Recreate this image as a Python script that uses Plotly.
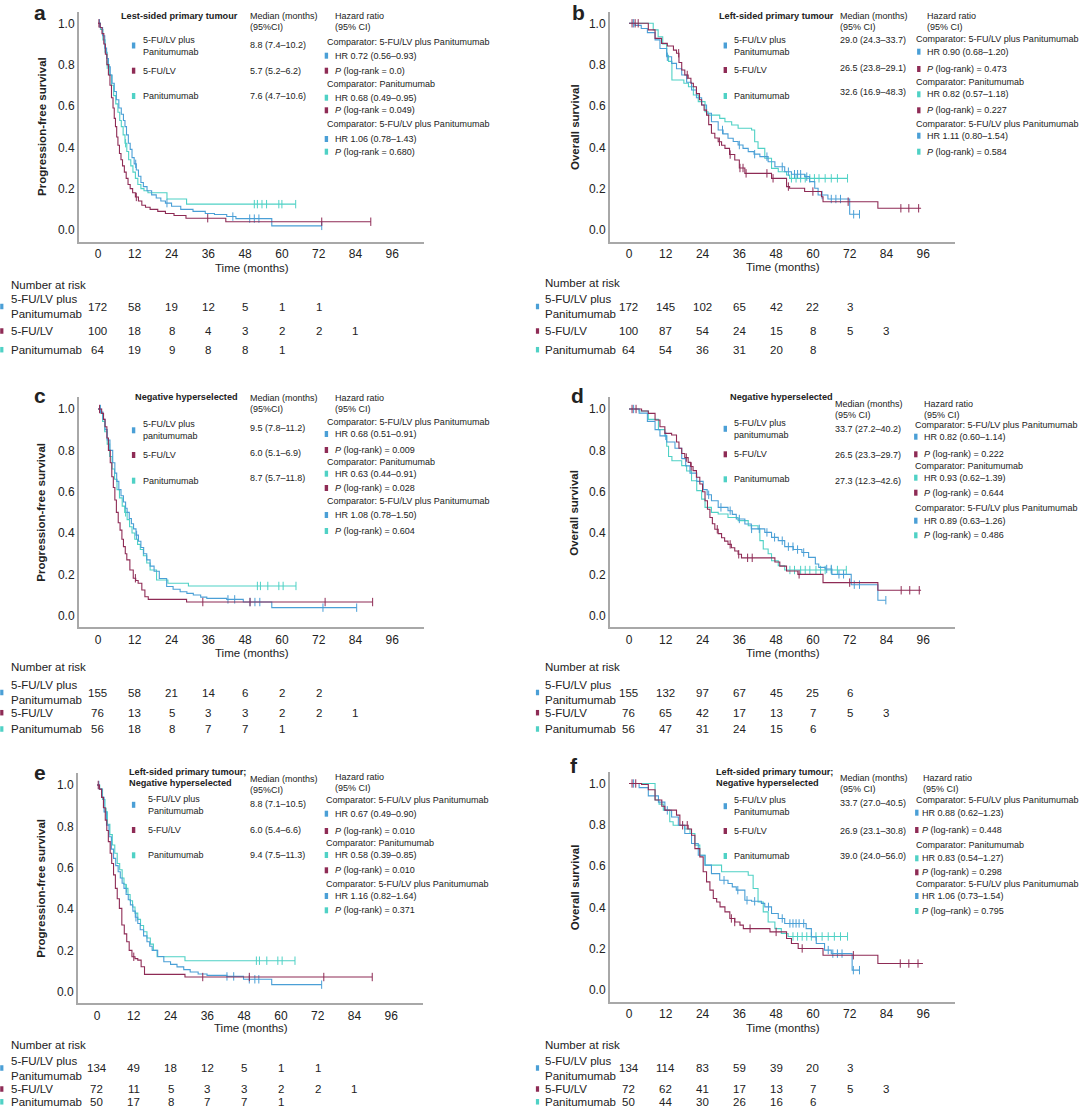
import numpy as np
import plotly.graph_objects as go

W, H = 1080, 1109

BLUE = "#4a9fd6"
MAROON = "#8e2b55"
CYAN = "#4fd1c5"
TXT = "#222222"
FONT = "Liberation Sans, Arial, sans-serif"

# ---------------- curve data (months, survival) ----------------
# panel a : PFS, left-sided
A_COMBO_T = [0, 0.8, 1.5, 2.2, 2.8, 3.4, 4.0, 4.6, 5.3, 6.0, 6.8, 7.6, 8.3, 8.8, 9.3, 9.9, 10.5, 11.1, 11.8,
             12.5, 13.2, 14.0, 14.8, 16.0, 17.5, 19.0, 20.5, 22.0, 24.0, 27.0, 31.0, 35.0, 38.0, 42.0, 45.0, 56.7, 73.0]
A_COMBO_S = [1.0, 0.98, 0.94, 0.88, 0.83, 0.79, 0.75, 0.71, 0.67, 0.63, 0.59, 0.56, 0.53, 0.50, 0.46, 0.42, 0.39,
             0.35, 0.32, 0.29, 0.26, 0.23, 0.21, 0.19, 0.17, 0.155, 0.14, 0.13, 0.115, 0.10, 0.09, 0.08, 0.075, 0.065,
             0.055, 0.02, 0.02]
A_COMBO_C = [0.5, 12.3, 22.5, 44.0, 49.5, 51.0, 52.5, 73.0]
A_FU_T = [0, 0.7, 1.3, 1.9, 2.4, 2.9, 3.4, 3.9, 4.4, 4.9, 5.3, 5.7, 6.1, 6.5, 7.0, 7.5, 8.0, 8.6, 9.2, 9.8, 10.5,
          11.3, 12.2, 13.2, 14.3, 15.5, 17.0, 19.5, 22.0, 24.8, 28.7, 41.7, 89.0]
A_FU_S = [1.0, 0.98, 0.95, 0.90, 0.85, 0.80, 0.75, 0.70, 0.64, 0.59, 0.54, 0.50, 0.45, 0.41, 0.37, 0.34, 0.31, 0.28,
          0.25, 0.22, 0.20, 0.18, 0.16, 0.14, 0.12, 0.11, 0.10, 0.09, 0.08, 0.07, 0.057, 0.04, 0.04]
A_FU_C = [0.3, 12.5, 35.8, 73.0, 89.0]
A_PAN_T = [0, 0.8, 1.6, 2.3, 3.0, 3.7, 4.4, 5.1, 5.8, 6.5, 7.1, 7.6, 8.2, 8.8, 9.4, 10.0, 10.7, 11.4, 12.2, 13.0,
           14.0, 15.0, 16.3, 22.5, 28.9, 64.5]
A_PAN_S = [1.0, 0.97, 0.92, 0.86, 0.80, 0.75, 0.70, 0.65, 0.61, 0.57, 0.53, 0.50, 0.46, 0.42, 0.38, 0.34, 0.31,
           0.28, 0.25, 0.22, 0.20, 0.19, 0.18, 0.15, 0.125, 0.125]
A_PAN_C = [3.0, 9.0, 51.0, 52.0, 53.5, 55.0, 59.0, 60.0, 64.5]

# panel b : OS, left-sided
B_COMBO_T = [0, 2, 4, 6, 8.5, 10.1, 12.3, 13.9, 15.5, 17.2, 18.8, 20.4, 22.0, 23.7, 25.3, 26.9, 29.1, 30.7, 32.3,
             34.0, 35.6, 37.2, 38.9, 40.8, 42.7, 45.4, 47.6, 50.8, 53.0, 57.3, 58.9, 60.6, 61.7, 64.9, 72.0, 75.2]
B_COMBO_S = [1.0, 0.99, 0.975, 0.955, 0.92, 0.878, 0.838, 0.806, 0.78, 0.75, 0.715, 0.677, 0.64, 0.605, 0.565,
             0.524, 0.484, 0.465, 0.444, 0.428, 0.411, 0.395, 0.379, 0.367, 0.355, 0.33, 0.306, 0.282, 0.27, 0.258,
             0.234, 0.202, 0.169, 0.15, 0.076, 0.076]
B_COMBO_C = [1.5, 12.5, 30.5, 36.0, 41.0, 45.0, 50.0, 52.0, 54.0, 55.0, 56.0, 58.0, 63.0, 66.0, 67.5, 69.0, 73.3, 75.2]
B_FU_T = [0, 6.3, 8.5, 10.6, 12.5, 14.5, 15.5, 16.3, 17.2, 18.2, 19.3, 20.2, 21.0, 22.0, 23.0, 23.7, 24.5, 25.3,
          26.0, 26.9, 28.0, 29.1, 30.2, 31.3, 32.8, 34.5, 36.0, 37.8, 46.5, 51.4, 52.4, 57.3, 62.8, 63.3, 81.2, 95.3]
B_FU_S = [1.0, 0.968, 0.927, 0.903, 0.89, 0.87, 0.855, 0.81, 0.774, 0.75, 0.734, 0.71, 0.693, 0.66, 0.63, 0.605,
          0.58, 0.556, 0.51, 0.468, 0.445, 0.427, 0.41, 0.395, 0.365, 0.339, 0.30, 0.274, 0.25, 0.21, 0.202, 0.186,
          0.161, 0.137, 0.105, 0.105]
B_FU_C = [1.0, 2.0, 3.0, 16.2, 19.0, 29.5, 33.0, 36.2, 37.2, 38.2, 45.0, 47.0, 52.0, 60.0, 71.5, 88.7, 91.3, 94.5]
B_PAN_T = [0, 7.9, 9.5, 11.0, 12.3, 12.9, 14.0, 17.9, 19.4, 21.0, 22.6, 24.8, 25.8, 29.6, 31.3, 33.5, 35.6, 40.0,
           41.0, 42.1, 44.3, 46.5, 48.7, 51.4, 52.4, 71.3]
B_PAN_S = [1.0, 0.968, 0.935, 0.90, 0.845, 0.816, 0.726, 0.71, 0.693, 0.653, 0.621, 0.572, 0.556, 0.54, 0.524,
           0.508, 0.492, 0.484, 0.427, 0.395, 0.347, 0.298, 0.282, 0.266, 0.25, 0.25]
B_PAN_C = [53.0, 54.5, 56.0, 57.5, 59.0, 60.5, 62.0, 64.0, 66.0, 68.0, 71.3]

# panel c : PFS, negative hyperselected
C_COMBO_T = [0, 1.0, 1.6, 2.3, 3.0, 3.9, 4.8, 5.5, 6.1, 6.8, 7.5, 8.3, 9.0, 9.5, 10.2, 10.9, 11.6, 12.4, 13.2,
             14.0, 14.9, 15.9, 17.0, 18.3, 20.0, 22.4, 24.5, 26.8, 29.0, 31.1, 33.5, 35.5, 42.0, 47.4, 56.7, 84.4]
C_COMBO_S = [1.0, 0.985, 0.95, 0.90, 0.85, 0.80, 0.74, 0.69, 0.65, 0.61, 0.58, 0.55, 0.52, 0.50, 0.47, 0.445,
             0.42, 0.39, 0.36, 0.33, 0.30, 0.27, 0.24, 0.215, 0.18, 0.141, 0.128, 0.116, 0.108, 0.10, 0.09, 0.084,
             0.079, 0.066, 0.039, 0.039]
C_COMBO_C = [0.8, 12.6, 42.4, 44.6, 49.6, 51.2, 52.8, 73.4, 84.4]
C_FU_T = [0, 1.2, 1.8, 2.3, 2.9, 3.4, 4.0, 4.5, 5.0, 5.5, 6.0, 6.6, 7.2, 7.8, 8.3, 8.9, 9.4, 10.4, 11.5, 12.3,
          13.1, 14.3, 15.3, 16.4, 28.9, 89.6]
C_FU_S = [1.0, 0.979, 0.95, 0.914, 0.86, 0.80, 0.74, 0.672, 0.62, 0.56, 0.50, 0.45, 0.414, 0.37, 0.334, 0.30,
          0.27, 0.221, 0.181, 0.17, 0.157, 0.124, 0.092, 0.079, 0.066, 0.066]
C_FU_C = [0.5, 12.2, 34.2, 49.6, 74.1, 89.6]
C_PAN_T = [0, 0.8, 1.5, 2.2, 3.0, 3.8, 4.6, 5.4, 6.2, 7.0, 7.9, 8.7, 9.5, 10.3, 11.1, 12.0, 12.9, 13.8, 14.8,
           15.9, 17.0, 19.1, 22.8, 29.5, 64.6]
C_PAN_S = [1.0, 0.98, 0.94, 0.89, 0.83, 0.77, 0.71, 0.66, 0.61, 0.57, 0.53, 0.50, 0.465, 0.43, 0.40, 0.37, 0.345,
           0.32, 0.29, 0.255, 0.221, 0.173, 0.157, 0.144, 0.144]
C_PAN_C = [3.5, 9.0, 52.0, 53.0, 55.4, 59.0, 60.4, 64.6]

# panel d : OS, negative hyperselected
D_COMBO_T = [0, 3.3, 6.0, 8.5, 10.1, 12.3, 15.0, 17.2, 18.5, 19.9, 22.1, 24.2, 25.5, 26.9, 29.1, 32.3, 33.7, 35.0,
             37.8, 39.9, 44.3, 46.5, 48.7, 50.8, 53.6, 56.4, 58.6, 60.8, 61.9, 64.0, 66.2, 72.5, 81.2, 83.8]
D_COMBO_S = [1.0, 0.98, 0.94, 0.90, 0.87, 0.84, 0.81, 0.76, 0.725, 0.69, 0.65, 0.61, 0.585, 0.556, 0.524, 0.508,
             0.49, 0.468, 0.444, 0.42, 0.403, 0.379, 0.363, 0.334, 0.32, 0.306, 0.282, 0.25, 0.234, 0.226, 0.20,
             0.15, 0.075, 0.075]
D_COMBO_C = [1.5, 12.0, 26.0, 30.0, 33.0, 36.0, 40.0, 42.5, 45.0, 47.5, 50.0, 52.0, 53.5, 55.0, 57.0, 64.5, 66.0,
             68.5, 70.0, 73.5, 75.2, 83.8]
D_FU_T = [0, 4.1, 6.3, 8.5, 10.1, 11.7, 13.9, 15.5, 16.3, 17.2, 18.2, 19.3, 20.1, 20.9, 22.0, 23.1, 24.0, 24.8,
          25.6, 26.4, 27.2, 28.0, 29.1, 30.2, 31.2, 32.3, 33.4, 34.5, 35.6, 36.7, 47.6, 49.2, 51.4, 55.1, 63.3, 81.2,
          95.3]
D_FU_S = [1.0, 0.99, 0.979, 0.947, 0.914, 0.882, 0.874, 0.84, 0.81, 0.785, 0.765, 0.742, 0.722, 0.702, 0.67,
          0.637, 0.60, 0.556, 0.515, 0.475, 0.445, 0.418, 0.397, 0.377, 0.361, 0.345, 0.329, 0.313, 0.297, 0.28,
          0.26, 0.24, 0.216, 0.20, 0.16, 0.123, 0.123]
D_FU_C = [1.0, 2.3, 18.7, 20.3, 28.8, 33.0, 35.8, 38.7, 40.2, 55.5, 72.0, 88.8, 91.6, 94.7]
D_PAN_T = [0, 3.3, 6.3, 9.6, 11.7, 12.3, 12.9, 14.0, 17.2, 18.8, 20.4, 22.1, 23.7, 24.8, 26.9, 29.1, 32.3, 35.6,
           38.9, 42.1, 42.7, 43.8, 45.4, 46.5, 48.7, 50.8, 70.9]
D_PAN_S = [1.0, 0.99, 0.95, 0.90, 0.87, 0.82, 0.77, 0.75, 0.726, 0.70, 0.653, 0.605, 0.564, 0.524, 0.50, 0.492,
           0.475, 0.46, 0.435, 0.42, 0.363, 0.323, 0.30, 0.266, 0.242, 0.221, 0.221]
D_PAN_C = [52.5, 54.0, 56.0, 57.5, 59.0, 61.0, 62.5, 64.0, 66.0, 68.0, 70.9]

# panel e : PFS, left-sided + negative hyperselected
E_COMBO_T = [0, 0.8, 1.6, 2.3, 3.1, 3.9, 4.7, 5.4, 6.1, 6.9, 7.6, 8.2, 8.8, 9.5, 10.2, 10.9, 11.7, 12.5, 13.3,
             14.1, 15.2, 16.3, 17.2, 18.0, 19.8, 21.8, 24.0, 26.1, 28.3, 30.4, 33.0, 35.9, 42.4, 47.8, 57.0, 73.3]
E_COMBO_S = [1.0, 0.98, 0.94, 0.87, 0.806, 0.75, 0.69, 0.645, 0.61, 0.58, 0.55, 0.525, 0.50, 0.47, 0.445, 0.42,
             0.39, 0.36, 0.33, 0.30, 0.27, 0.242, 0.22, 0.20, 0.17, 0.145, 0.132, 0.12, 0.107, 0.095, 0.086, 0.079,
             0.074, 0.06, 0.034, 0.034]
E_COMBO_C = [0.6, 12.7, 42.4, 44.6, 49.7, 51.5, 52.8, 73.3]
E_FU_T = [0, 0.8, 1.5, 2.1, 2.7, 3.2, 3.7, 4.3, 4.8, 5.4, 6.0, 6.6, 7.3, 8.1, 8.9, 9.7, 10.5, 11.4, 12.4, 13.3,
          14.4, 15.5, 28.7, 89.8]
E_FU_S = [1.0, 0.98, 0.94, 0.89, 0.83, 0.78, 0.726, 0.67, 0.62, 0.565, 0.50, 0.45, 0.403, 0.323, 0.28, 0.242,
          0.20, 0.169, 0.16, 0.153, 0.121, 0.084, 0.071, 0.071]
E_FU_C = [0.4, 12.0, 34.5, 49.7, 74.0, 89.8]
E_PAN_T = [0, 0.9, 1.8, 2.6, 3.4, 4.2, 5.0, 5.8, 6.6, 7.4, 8.2, 8.8, 9.4, 10.1, 10.8, 11.6, 12.4, 13.3, 14.2,
           15.2, 16.3, 17.4, 18.4, 19.6, 28.7, 64.6]
E_PAN_S = [1.0, 0.98, 0.93, 0.87, 0.81, 0.76, 0.71, 0.67, 0.62, 0.59, 0.55, 0.52, 0.50, 0.47, 0.44, 0.41, 0.38,
           0.35, 0.32, 0.29, 0.26, 0.23, 0.20, 0.169, 0.15, 0.15]
E_PAN_C = [3.0, 9.6, 52.0, 53.0, 55.4, 59.0, 60.4, 64.6]

# panel f : OS, left-sided + negative hyperselected
F_COMBO_T = [0, 3.3, 6.3, 9.6, 11.7, 13.9, 16.1, 18.2, 20.4, 22.6, 24.8, 26.9, 29.6, 32.3, 33.7, 35.0, 37.8, 40.0,
             43.2, 44.3, 46.5, 48.7, 50.8, 57.8, 59.5, 61.1, 63.8, 66.0, 72.8, 75.2]
F_COMBO_S = [1.0, 0.98, 0.94, 0.91, 0.87, 0.838, 0.798, 0.758, 0.71, 0.653, 0.605, 0.564, 0.532, 0.516, 0.50,
             0.484, 0.435, 0.43, 0.42, 0.403, 0.371, 0.347, 0.323, 0.298, 0.258, 0.226, 0.194, 0.177, 0.097, 0.097]
F_COMBO_C = [1.5, 12.5, 31.0, 35.5, 38.5, 41.0, 45.5, 50.0, 52.5, 53.5, 54.5, 55.5, 57.0, 65.0, 66.5, 68.0, 69.5,
             73.2, 75.2]
F_FU_T = [0, 4.1, 6.3, 8.5, 10.7, 11.7, 15.5, 16.6, 19.3, 20.4, 21.5, 23.1, 24.2, 25.3, 26.4, 27.5, 28.6, 29.7,
          31.3, 32.9, 34.5, 36.2, 37.3, 46.0, 51.4, 53.0, 55.2, 63.3, 81.2, 95.9]
F_FU_S = [1.0, 0.995, 0.97, 0.92, 0.89, 0.871, 0.847, 0.798, 0.78, 0.75, 0.685, 0.645, 0.573, 0.524, 0.484,
          0.444, 0.427, 0.403, 0.379, 0.347, 0.33, 0.315, 0.298, 0.282, 0.25, 0.226, 0.202, 0.169, 0.129, 0.129]
F_FU_C = [1.0, 2.2, 17.5, 19.0, 33.4, 34.5, 39.5, 48.0, 56.5, 73.2, 88.5, 91.3, 94.3]
F_PAN_T = [0, 8.5, 9.8, 11.2, 13.3, 14.4, 18.2, 19.9, 21.5, 23.1, 24.8, 30.2, 38.9, 40.5, 42.1, 43.8, 45.4, 47.6,
           49.7, 51.9, 71.3]
F_PAN_S = [1.0, 0.92, 0.90, 0.871, 0.815, 0.798, 0.78, 0.758, 0.702, 0.653, 0.605, 0.573, 0.556, 0.492, 0.427,
           0.379, 0.33, 0.298, 0.274, 0.26, 0.26]
F_PAN_C = [53.5, 55.0, 56.5, 58.0, 59.5, 61.0, 63.0, 65.0, 67.0, 69.0, 71.3]

# ---------------- number at risk ----------------
RISK_T = [0, 12, 24, 36, 48, 60, 72, 84]
A_RISK = ([172, 58, 19, 12, 5, 1, 1], [100, 18, 8, 4, 3, 2, 2, 1], [64, 19, 9, 8, 8, 1])
B_RISK = ([172, 145, 102, 65, 42, 22, 3], [100, 87, 54, 24, 15, 8, 5, 3], [64, 54, 36, 31, 20, 8])
C_RISK = ([155, 58, 21, 14, 6, 2, 2], [76, 13, 5, 3, 3, 2, 2, 1], [56, 18, 8, 7, 7, 1])
D_RISK = ([155, 132, 97, 67, 45, 25, 6], [76, 65, 42, 17, 13, 7, 5, 3], [56, 47, 31, 24, 15, 6])
E_RISK = ([134, 49, 18, 12, 5, 1, 1], [72, 11, 5, 3, 3, 2, 2, 1], [50, 17, 8, 7, 7, 1])
F_RISK = ([134, 114, 83, 59, 39, 20, 3], [72, 62, 41, 17, 13, 7, 5, 3], [50, 44, 30, 26, 16, 6])

X_TICKS = [0, 12, 24, 36, 48, 60, 72, 84, 96]
Y_TICKS = [0.0, 0.2, 0.4, 0.6, 0.8, 1.0]
XR = [-6.2, 106.5]
YR = [-0.057, 1.057]
PX_MONTH = 3.065
PX_UNIT = 206.7

COMP1 = "Comparator: 5-FU/LV plus Panitumumab"
COMP2 = "Comparator: Panitumumab"


def P(txt):
    return "<i>P</i> " + txt


PANELS = [
    dict(letter="a", lpos=(40, 12.5), x0=98, y1=23.3, ytitle="Progression-free survival", tlab_y=268,
         curves=[(A_PAN_T, A_PAN_S, A_PAN_C, CYAN), (A_COMBO_T, A_COMBO_S, A_COMBO_C, BLUE),
                 (A_FU_T, A_FU_S, A_FU_C, MAROON)],
         title=[(118.8, 16, "Lest-sided primary tumour")],
         med_hdr=(247.9, 16, 27, "(95%CI)"), hr_hdr=(333.3, 16, 27),
         leg=dict(sq=133.6, tx=140.5, md=247.9,
                  rows=[(45.5, 45, "5-FU/LV plus<br>Panitumumab", "8.8 (7.4–10.2)", BLUE),
                        (70.7, 70.7, "5-FU/LV", "5.7 (5.2–6.2)", MAROON),
                        (96, 96, "Panitumumab", "7.6 (4.7–10.6)", CYAN)]),
         hr=dict(cx=324.7, sq=326.4, tx=333.3,
                 rows=[(41.7, COMP1, None), (55.7, "HR 0.72 (0.56–0.93)", BLUE),
                       (70.7, P("(log-rank = 0.0)"), MAROON), (83.7, COMP2, None),
                       (97.7, "HR 0.68 (0.49–0.95)", CYAN), (110.3, P("(log-rank = 0.049)"), MAROON),
                       (124, COMP1, None), (139, "HR 1.06 (0.78–1.43)", BLUE),
                       (151.7, P("(log-rank = 0.680)"), CYAN)]),
         risk=A_RISK, risk_x=8.6, risk_sq=1.8, risk_y=(284.5, 306.5, 331, 349.7)),
    dict(letter="b", lpos=(578, 12.5), x0=629, y1=23.3, ytitle="Overall survival", tlab_y=267,
         curves=[(B_PAN_T, B_PAN_S, B_PAN_C, CYAN), (B_COMBO_T, B_COMBO_S, B_COMBO_C, BLUE),
                 (B_FU_T, B_FU_S, B_FU_C, MAROON)],
         title=[(717.3, 16, "Left-sided primary tumour")],
         med_hdr=(837.9, 16, 27, "(95% CI)"), hr_hdr=(925, 16, 27),
         leg=dict(sq=725.3, tx=732.1, md=837.9,
                  rows=[(45.5, 40, "5-FU/LV plus<br>Panitumumab", "29.0 (24.3–33.7)", BLUE),
                        (70, 68, "5-FU/LV", "26.5 (23.8–29.1)", MAROON),
                        (96, 91.7, "Panitumumab", "32.6 (16.9–48.3)", CYAN)]),
         hr=dict(cx=913.6, sq=918.8, tx=925,
                 rows=[(39.3, COMP1, None), (51.7, "HR 0.90 (0.68–1.20)", BLUE),
                       (69, P("(log-rank) = 0.473"), MAROON), (82, COMP2, None),
                       (94.3, "HR 0.82 (0.57–1.18)", CYAN), (110.3, P("(log-rank) = 0.227"), MAROON),
                       (124, COMP1, None), (135.7, "HR 1.11 (0.80–1.54)", BLUE),
                       (151.7, P("(log-rank) = 0.584"), CYAN)]),
         risk=B_RISK, risk_x=542.8, risk_sq=537.5, risk_y=(282.7, 306.5, 331, 349.7)),
    dict(letter="c", lpos=(40, 395), x0=98, y1=409, ytitle="Progression-free survival", tlab_y=653,
         curves=[(C_PAN_T, C_PAN_S, C_PAN_C, CYAN), (C_COMBO_T, C_COMBO_S, C_COMBO_C, BLUE),
                 (C_FU_T, C_FU_S, C_FU_C, MAROON)],
         title=[(132.6, 396.7, "Negative hyperselected")],
         med_hdr=(247.9, 398.3, 409.3, "(95%CI)"), hr_hdr=(333.3, 398.3, 409.3),
         leg=dict(sq=133.6, tx=140.5, md=247.9,
                  rows=[(430.3, 428.3, "5-FU/LV plus<br>panitumumab", "9.5 (7.8–11.2)", BLUE),
                        (455, 453.3, "5-FU/LV", "6.0 (5.1–6.9)", MAROON),
                        (480.7, 477.7, "Panitumumab", "8.7 (5.7–11.8)", CYAN)]),
         hr=dict(cx=324.7, sq=326.4, tx=333.3,
                 rows=[(421.7, COMP1, None), (434, "HR 0.68 (0.51–0.91)", BLUE),
                       (450, P("(log-rank) = 0.009"), MAROON), (461.7, COMP2, None),
                       (473.7, "HR 0.63 (0.44–0.91)", CYAN), (488, P("(log-rank) = 0.028"), MAROON),
                       (501.3, COMP1, None), (515, "HR 1.08 (0.78–1.50)", BLUE),
                       (531, P("(log-rank) = 0.604"), CYAN)]),
         risk=C_RISK, risk_x=8.6, risk_sq=1.8, risk_y=(666.7, 692.5, 712.7, 729)),
    dict(letter="d", lpos=(577, 395), x0=629, y1=409, ytitle="Overall survival", tlab_y=653.3,
         curves=[(D_PAN_T, D_PAN_S, D_PAN_C, CYAN), (D_COMBO_T, D_COMBO_S, D_COMBO_C, BLUE),
                 (D_FU_T, D_FU_S, D_FU_C, MAROON)],
         title=[(727.7, 396.7, "Negative hyperselected")],
         med_hdr=(833.4, 404, 415, "(95% CI)"), hr_hdr=(921.5, 404, 415),
         leg=dict(sq=725.3, tx=732.1, md=833.4,
                  rows=[(428.8, 429.3, "5-FU/LV plus<br>panitumumab", "33.7 (27.2–40.2)", BLUE),
                        (454.3, 455, "5-FU/LV", "26.5 (23.3–29.7)", MAROON),
                        (479.3, 480.7, "Panitumumab", "27.3 (12.3–42.6)", CYAN)]),
         hr=dict(cx=912.6, sq=915.8, tx=921.5,
                 rows=[(425, COMP1, None), (436.7, "HR 0.82 (0.60–1.14)", BLUE),
                       (454.3, P("(log-rank) = 0.222"), MAROON), (465.7, COMP2, None),
                       (477.7, "HR 0.93 (0.62–1.39)", CYAN), (492.7, P("(log-rank) = 0.644"), MAROON),
                       (507.7, COMP1, None), (520.7, "HR 0.89 (0.63–1.26)", BLUE),
                       (535.3, P("(log-rank) = 0.486"), CYAN)]),
         risk=D_RISK, risk_x=542.8, risk_sq=537.5, risk_y=(666.7, 692.5, 712.7, 729)),
    dict(letter="e", lpos=(40, 772.7), x0=97, y1=785, ytitle="Progression-free survival", tlab_y=1028,
         curves=[(E_PAN_T, E_PAN_S, E_PAN_C, CYAN), (E_COMBO_T, E_COMBO_S, E_COMBO_C, BLUE),
                 (E_FU_T, E_FU_S, E_FU_C, MAROON)],
         title=[(127.4, 771.7, "Left-sided primary tumour;"), (127.4, 782.7, "Negative hyperselected")],
         med_hdr=(247.9, 779, 790, "(95%CI)"), hr_hdr=(333.3, 777.3, 788.3),
         leg=dict(sq=133.6, tx=146, md=247.9,
                  rows=[(804.8, 804.3, "5-FU/LV plus<br>Panitumumab", "8.8 (7.1–10.5)", BLUE),
                        (830, 830, "5-FU/LV", "6.0 (5.4–6.6)", MAROON),
                        (855.3, 855.3, "Panitumumab", "9.4 (7.5–11.3)", CYAN)]),
         hr=dict(cx=323.7, sq=326.4, tx=333.3,
                 rows=[(800, COMP1, None), (813.7, "HR 0.67 (0.49–0.90)", BLUE),
                       (831, P("(log-rank) = 0.010"), MAROON), (842.7, COMP2, None),
                       (855, "HR 0.58 (0.39–0.85)", CYAN), (870.3, P("(log-rank) = 0.010"), MAROON),
                       (883.7, COMP1, None), (896, "HR 1.16 (0.82–1.64)", BLUE),
                       (910.3, P("(log-rank) = 0.371"), CYAN)]),
         risk=E_RISK, risk_x=8.6, risk_sq=1.8, risk_y=(1045, 1068, 1089, 1101.8)),
    dict(letter="f", lpos=(574, 765), x0=629, y1=783.5, ytitle="Overall survival", tlab_y=1028.3,
         curves=[(F_PAN_T, F_PAN_S, F_PAN_C, CYAN), (F_COMBO_T, F_COMBO_S, F_COMBO_C, BLUE),
                 (F_FU_T, F_FU_S, F_FU_C, MAROON)],
         title=[(713.9, 771.7, "Left-sided primary tumour;"), (713.9, 782.7, "Negative hyperselected")],
         med_hdr=(838.2, 777.7, 788.7, "(95% CI)"), hr_hdr=(920.5, 777.7, 788.7),
         leg=dict(sq=725.3, tx=732.1, md=838.2,
                  rows=[(806.2, 803.3, "5-FU/LV plus<br>Panitumumab", "33.7 (27.0–40.5)", BLUE),
                        (831, 831, "5-FU/LV", "26.9 (23.1–30.8)", MAROON),
                        (856, 856, "Panitumumab", "39.0 (24.0–56.0)", CYAN)]),
         hr=dict(cx=914.3, sq=916.8, tx=919.8,
                 rows=[(800, COMP1, None), (812.7, "HR 0.88 (0.62–1.23)", BLUE),
                       (830, P("(log-rank) = 0.448"), MAROON), (845, COMP2, None),
                       (858.3, "HR 0.83 (0.54–1.27)", CYAN), (872.3, P("(log-rank) = 0.298"), MAROON),
                       (884.3, COMP1, None), (896, "HR 1.06 (0.73–1.54)", BLUE),
                       (911, P("(log–rank) = 0.795"), CYAN)]),
         risk=F_RISK, risk_x=542.8, risk_sq=537.5, risk_y=(1045, 1068, 1089, 1101.8)),
]

RISK_LABELS = ["5-FU/LV plus<br>Panitumumab", "5-FU/LV", "Panitumumab"]
RISK_COLORS = [BLUE, MAROON, CYAN]


def fx(px):
    return px / W


def fy(py):
    return 1 - py / H


def step_at(t, s, x):
    i = np.searchsorted(np.asarray(t), x, side="right") - 1
    return s[max(i, 0)]


fig = go.Figure()
annotations = []
shapes = []


def text(x, y, s, size=9, bold=False, xanchor="left", color=TXT, xref="paper", angle=0):
    if bold:
        s = "<b>" + s + "</b>"
    annotations.append(dict(x=x if xref != "paper" else fx(x), y=fy(y), xref=xref, yref="paper", text=s,
                            showarrow=False, xanchor=xanchor, yanchor="middle", textangle=angle,
                            font=dict(size=size, color=color, family=FONT), align="left"))


def square(cx, cy, color, w=3.4, h=6):
    shapes.append(dict(type="rect", xref="paper", yref="paper", x0=fx(cx - w / 2), x1=fx(cx + w / 2),
                       y0=fy(cy + h / 2), y1=fy(cy - h / 2), fillcolor=color, line=dict(width=0)))


layout_axes = {}
for i, p in enumerate(PANELS):
    n = i + 1
    xa = "x" if n == 1 else f"x{n}"
    ya = "y" if n == 1 else f"y{n}"

    for t, s, cens, col in p["curves"]:
        fig.add_trace(go.Scatter(x=t, y=s, mode="lines", xaxis=xa, yaxis=ya, showlegend=False,
                                 hoverinfo="skip", line=dict(color=col, width=1.1, shape="hv")))
        fig.add_trace(go.Scatter(x=cens, y=[step_at(t, s, c) for c in cens], mode="markers", xaxis=xa,
                                 yaxis=ya, showlegend=False, hoverinfo="skip",
                                 marker=dict(symbol="line-ns", size=6, color=col,
                                             line=dict(width=1, color=col))))

    left = p["x0"] + XR[0] * PX_MONTH
    right = p["x0"] + XR[1] * PX_MONTH
    top = p["y1"] - (YR[1] - 1) * PX_UNIT
    bottom = p["y1"] + (1 - YR[0]) * PX_UNIT
    axis_common = dict(showline=True, linecolor="#a8a8a8", linewidth=2, showgrid=False, zeroline=False,
                       ticks="", fixedrange=True, tickfont=dict(size=12, color=TXT, family=FONT))
    layout_axes["xaxis" if n == 1 else f"xaxis{n}"] = dict(
        domain=[fx(left), fx(right)], range=XR, anchor=ya, tickvals=X_TICKS, **axis_common)
    layout_axes["yaxis" if n == 1 else f"yaxis{n}"] = dict(
        domain=[fy(bottom), fy(top)], range=YR, anchor=xa, tickvals=Y_TICKS, tickformat=".1f", **axis_common)

    # panel letter, axis titles
    text(p["lpos"][0], p["lpos"][1], p["letter"], size=21, bold=True, xanchor="center")
    text(41.3 if p["x0"] < 500 else 574.4, p["y1"] + PX_UNIT / 2, p["ytitle"], size=11.5,
         bold=True, xanchor="center", angle=-90)
    text((left + right) / 2, p["tlab_y"], "Time (months)", size=11.5, xanchor="center")

    # headers
    for tx, ty, tt in p["title"]:
        text(tx, ty, tt, size=9.2, bold=True)
    mx, my1, my2, ci = p["med_hdr"]
    text(mx, my1, "Median (months)")
    text(mx, my2, ci)
    hx, hy1, hy2 = p["hr_hdr"]
    text(hx, hy1, "Hazard ratio")
    text(hx, hy2, "(95% CI)")

    # legend with medians
    lg = p["leg"]
    for ly, my, lab, med, col in lg["rows"]:
        square(lg["sq"], ly, col)
        text(lg["tx"], ly, lab)
        text(lg["md"], my, med)

    # hazard ratios
    hr = p["hr"]
    for ry, lab, col in hr["rows"]:
        if col is None:
            text(hr["cx"], ry, lab)
        else:
            square(hr["sq"], ry, col)
            text(hr["tx"], ry, lab)

    # number at risk table
    ny, r1, r2, r3 = p["risk_y"]
    text(p["risk_x"], ny, "Number at risk", size=11.5)
    for row_y, lab, col, vals in zip((r1, r2, r3), RISK_LABELS, RISK_COLORS, p["risk"]):
        square(p["risk_sq"], row_y, col, w=3.2, h=5.5)
        text(p["risk_x"], row_y, lab, size=11.5)
        for tm, v in zip(RISK_T, vals):
            text(tm, row_y, str(v), size=11.5, xanchor="center", xref=xa)

fig.update_layout(
    width=W, height=H,
    margin=dict(l=0, r=0, t=0, b=0),
    paper_bgcolor="white", plot_bgcolor="white",
    font=dict(family=FONT, color=TXT),
    showlegend=False,
    annotations=annotations,
    shapes=shapes,
    **layout_axes,
)

# the page body has a default 8px margin; drop it so the figure fills the window
fig.write_html("out.html",
               config={"displayModeBar": False},
               post_script="document.body.style.margin='0';document.body.style.overflow='hidden';")
